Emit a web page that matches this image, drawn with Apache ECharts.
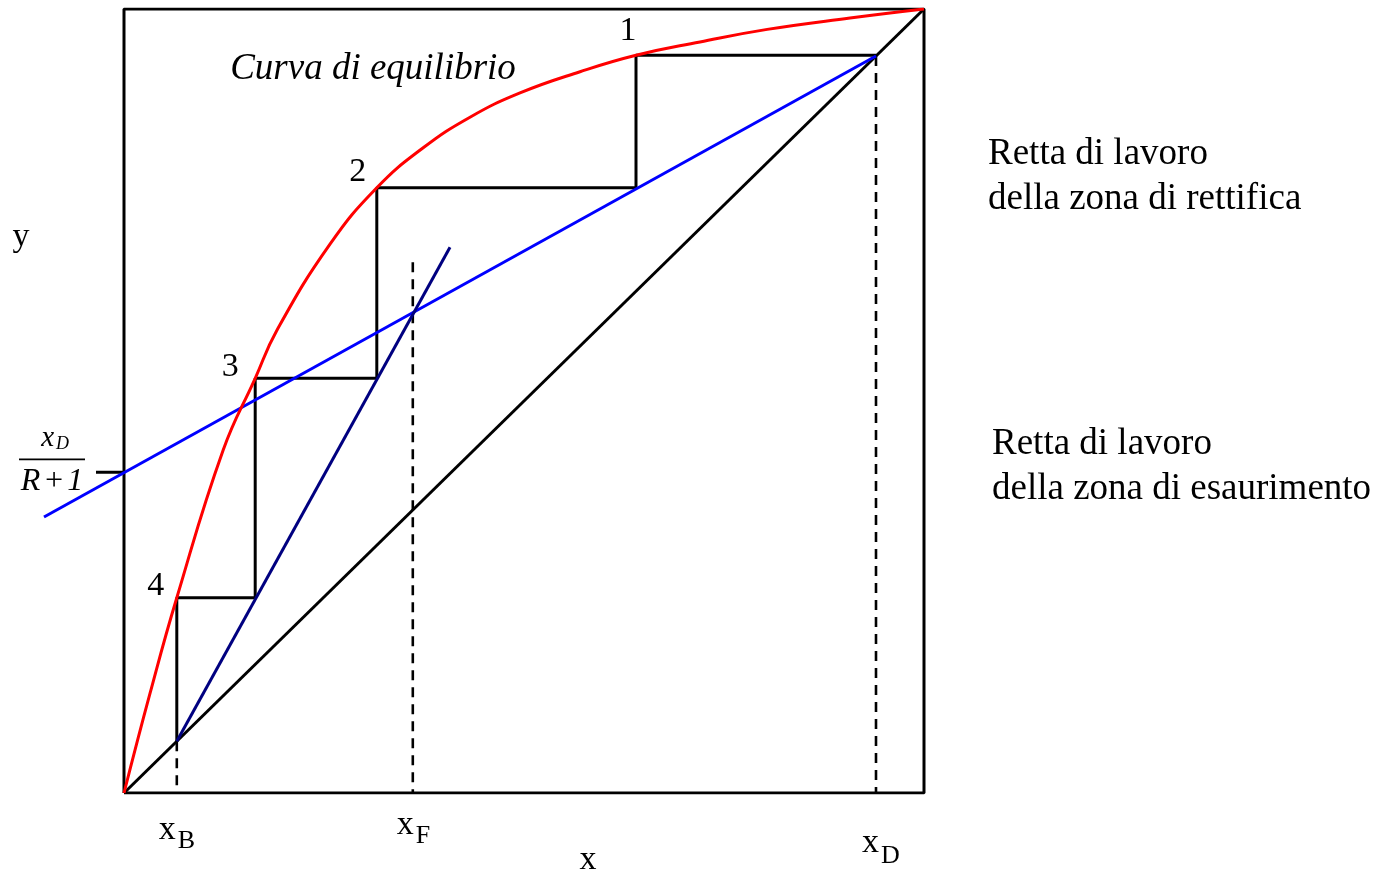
<!DOCTYPE html>
<html>
<head>
<meta charset="utf-8">
<script src="https://cdn.jsdelivr.net/npm/echarts@6/dist/echarts.min.js"></script>
<style>
  html, body { margin: 0; padding: 0; background: #ffffff; }
  #chart { width: 1387px; height: 877px; }
</style>
</head>
<body>
<div id="chart"></div>
<script>
// McCabe-Thiele construction: compositions as mole fractions
const xB = 0.066;   // bottoms
const xF = 0.361;   // feed
const xD = 0.94;    // distillate
const refluxIntercept = 0.409;   // x_D / (R + 1)
const feedLineTop = 0.677;

// equilibrium curve y(x)
const equilibriumCurve = [
  [0, 0], [0.0325, 0.127], [0.066, 0.249], [0.124, 0.4375], [0.164, 0.529],
  [0.191, 0.59], [0.2575, 0.7], [0.316, 0.772], [0.374, 0.823], [0.4325, 0.862],
  [0.495, 0.893], [0.57, 0.92], [0.64, 0.941], [0.72, 0.958], [0.804, 0.974],
  [0.9075, 0.9885], [1, 1]
];

// operating lines
const rectifyingLine = [[-0.1, 0.352], [0.94, 0.94]];
const strippingLine = [[0.066, 0.066], [0.4075, 0.696]];

// theoretical stages
const stagePoints = [[0.64, 0.941], [0.316, 0.772], [0.164, 0.529], [0.066, 0.249]];
const stageLabels = ['1', '2', '3', '4'];
const stairSteps = [
  [0.94, 0.941], [0.64, 0.941], [0.64, 0.772], [0.316, 0.772], [0.316, 0.529],
  [0.164, 0.529], [0.164, 0.249], [0.066, 0.249], [0.066, 0.066]
];

const axisMarkNames = ['B', 'F', 'D'];
const axisMarkValues = [xB, xF, xD];

const SERIF = '"Liberation Serif", "Times New Roman", serif';
const BLACK = '#000000';
const LW = 3;

function lineSeries(data, color, width, extra) {
  return Object.assign({
    type: 'line',
    data: data,
    symbol: 'none',
    silent: true,
    animation: false,
    lineStyle: { color: color, width: width },
    z: 2
  }, extra || {});
}

function dashed(data) {
  return lineSeries(data, BLACK, LW, { lineStyle: { color: BLACK, width: 2.6, type: [10, 7] } });
}

const chart = echarts.init(document.getElementById('chart'), null, { renderer: 'canvas' });

chart.setOption({
  backgroundColor: '#ffffff',
  animation: false,
  grid: { left: 44, top: 9, width: 880, height: 784 },
  xAxis: { type: 'value', min: -0.1, max: 1, show: false },
  yAxis: { type: 'value', min: 0, max: 1, show: false },
  series: [
    // plot frame
    lineSeries([[0, 0], [1, 0], [1, 1], [0, 1], [0, 0]], BLACK, LW),
    // diagonal y = x
    lineSeries([[0, 0], [1, 1]], BLACK, LW),
    // x_D/(R+1) tick
    lineSeries([[-0.035, refluxIntercept], [0, refluxIntercept]], BLACK, LW),
    // vertical dashed markers
    dashed([[xB, xB], [xB, 0]]),
    dashed([[xF, feedLineTop], [xF, 0]]),
    dashed([[xD, xD], [xD, 0]]),
    // stage staircase
    lineSeries(stairSteps, BLACK, LW),
    // operating lines
    lineSeries(rectifyingLine, '#0000ff', LW, { z: 3 }),
    lineSeries(strippingLine, '#000080', LW, { z: 3 }),
    // equilibrium curve
    lineSeries(equilibriumCurve, '#ff0000', LW, { smooth: 0.45, z: 4 })
  ]
});

// text placed by its baseline
function text(x, baseline, str, size, opts) {
  opts = opts || {};
  return {
    type: 'text',
    x: x,
    y: baseline - 0.3375 * size,
    silent: true,
    z: 10,
    style: {
      text: str,
      font: (opts.italic ? 'italic ' : '') + size + 'px ' + SERIF,
      fill: BLACK,
      align: opts.align || 'left',
      verticalAlign: 'middle'
    }
  };
}

const px = function (pt) { return chart.convertToPixel({ gridIndex: 0 }, pt); };
const graphics = [];

// stage numbers beside each stage point
const stageLabelOffsets = [[-8, -13], [-19, -4], [-25, 0], [-21, 0]];
stagePoints.forEach(function (pt, i) {
  const p = px(pt);
  graphics.push(text(p[0] + stageLabelOffsets[i][0], p[1] + stageLabelOffsets[i][1], stageLabels[i], 34, { align: 'center' }));
});

// x_B, x_F, x_D under the dashed markers
const axisMarkBaselines = [[842, 850], [837, 845], [855, 865]];
const axisMarkShift = [-1, 1, 3];
axisMarkValues.forEach(function (v, i) {
  const p = px([v, 0]);
  const right = p[0] + axisMarkShift[i];
  graphics.push(text(right, axisMarkBaselines[i][0], 'x', 34, { align: 'right' }));
  graphics.push(text(right + 2, axisMarkBaselines[i][1], axisMarkNames[i], 26));
});

// axis names
graphics.push(text(px([0.58, 0])[0], 872, 'x', 34, { align: 'center' }));
graphics.push(text(21, 249, 'y', 34, { align: 'center' }));

// x_D/(R+1) fraction beside the tick
const tickY = px([0, refluxIntercept])[1];
graphics.push(text(54, tickY - 24, 'x', 29, { italic: true, align: 'right' }));
graphics.push(text(56, tickY - 22, 'D', 18, { italic: true }));
graphics.push({
  type: 'line', silent: true, z: 10,
  shape: { x1: 19, y1: tickY - 13, x2: 85, y2: tickY - 13 },
  style: { stroke: BLACK, lineWidth: 1.8 }
});
graphics.push(text(52, tickY + 20, 'R\u200a+\u200a1', 32, { italic: true, align: 'center' }));

// curve caption
graphics.push(text(373, 82, 'Curva di equilibrio', 37, { italic: true, align: 'center' }));

// operating line captions
graphics.push(text(988, 167, 'Retta di lavoro', 37));
graphics.push(text(988, 212, 'della zona di rettifica', 37));
graphics.push(text(992, 457, 'Retta di lavoro', 37));
graphics.push(text(992, 502, 'della zona di esaurimento', 37));

chart.setOption({ graphic: graphics });
</script>
</body>
</html>
